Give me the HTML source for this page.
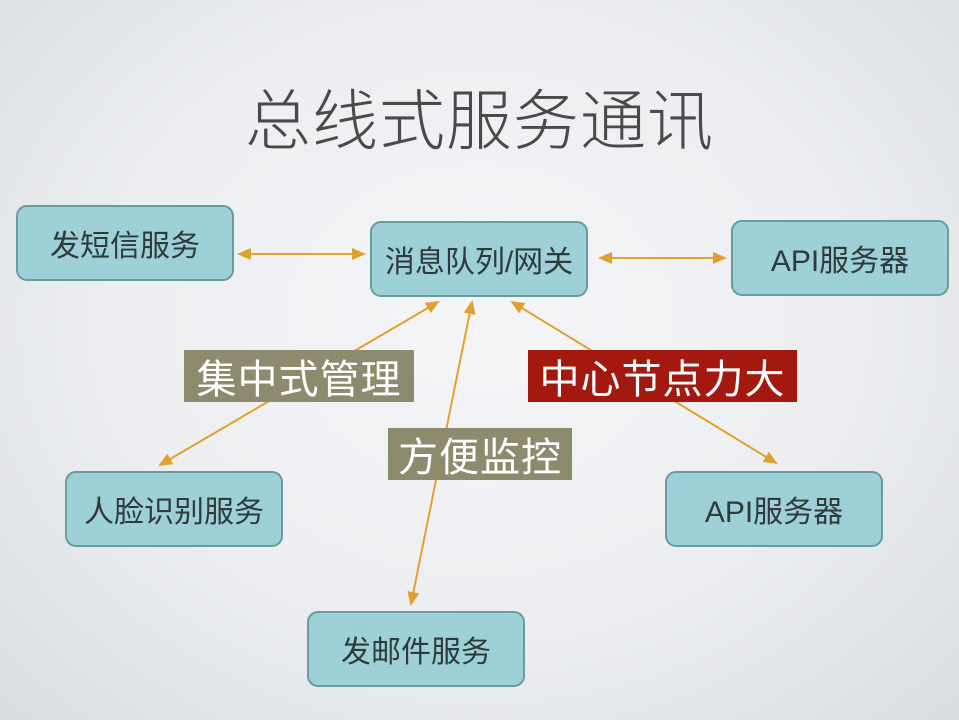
<!DOCTYPE html>
<html><head><meta charset="utf-8"><style>
body{margin:0;width:959px;height:720px;overflow:hidden;background:radial-gradient(ellipse at 50% 45%,#f4f5f7 0%,#eceef1 55%,#d9dce0 100%);font-family:"Liberation Sans","Noto Sans CJK SC",sans-serif;position:relative}
.t{position:absolute;left:0;width:959px;top:68px;text-align:center;font-size:66px;color:#4a4a4a;letter-spacing:1px;font-weight:300}
.b{position:absolute;box-sizing:border-box;background:#9dd0d7;border:2px solid #6b9aa0;border-radius:11px;display:flex;align-items:center;justify-content:center;font-size:30px;color:#2e3a3c;width:218px;height:76px}
.l{position:absolute;box-sizing:border-box;height:52px;display:flex;align-items:center;justify-content:center;color:#fff;font-size:40px;letter-spacing:1px}
svg{position:absolute;left:0;top:0}
</style></head><body>
<div class="t">总线式服务通讯</div>
<svg width="959" height="720"><defs><marker id="a" markerWidth="8" markerHeight="8" refX="6" refY="4" orient="auto-start-reverse"><path d="M0,1 L7,4 L0,7 Z" fill="#e0a030"/></marker></defs>
<g stroke="#e2a22e" stroke-width="2" marker-start="url(#a)" marker-end="url(#a)">
<line x1="239" y1="254" x2="364" y2="254"/>
<line x1="600" y1="258" x2="725" y2="258"/>
<line x1="438" y1="302" x2="160" y2="465"/>
<line x1="472" y1="302" x2="411" y2="604"/>
<line x1="512" y1="302" x2="776" y2="463"/>
</g></svg>
<div class="b" style="left:16px;top:205px">发短信服务</div>
<div class="b" style="left:370px;top:221px">消息队列/网关</div>
<div class="b" style="left:731px;top:220px">API服务器</div>
<div class="b" style="left:65px;top:471px">人脸识别服务</div>
<div class="b" style="left:665px;top:471px">API服务器</div>
<div class="b" style="left:307px;top:611px">发邮件服务</div>
<div class="l" style="left:184px;top:350px;width:230px;background:#8d8a6d">集中式管理</div>
<div class="l" style="left:528px;top:350px;width:269px;background:#a3190f">中心节点力大</div>
<div class="l" style="left:388px;top:428px;width:184px;background:#8d8a6d">方便监控</div>
</body></html>
